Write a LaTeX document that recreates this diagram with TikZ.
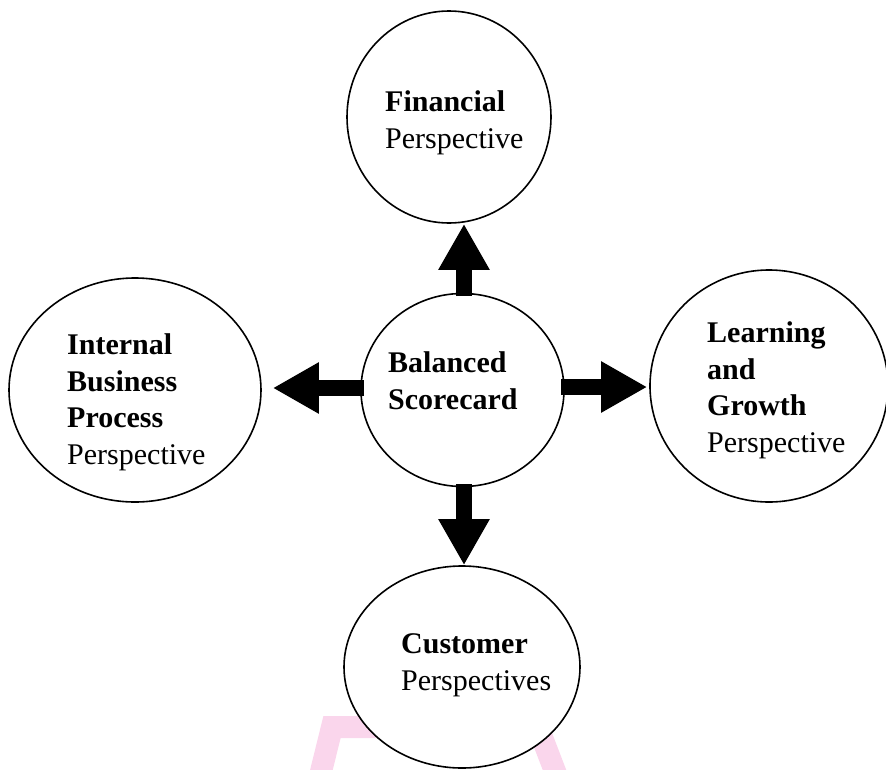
\documentclass[tikz,border=0pt]{standalone}
\usepackage{fontspec}
\setmainfont{Liberation Serif}
\usetikzlibrary{shapes.geometric,arrows.meta}
\definecolor{wmpink}{RGB}{250,214,236}
\begin{document}
\begin{tikzpicture}[x=1pt,y=-1pt,
  circ/.style={draw=black,line width=1.6pt,fill=white,ellipse,inner sep=0pt},
  lbl/.style={anchor=base west,align=left,inner sep=0pt,font=\fontsize{30}{36.5}\selectfont},
  blockarrow/.style={line width=16pt,-{Triangle[width=48pt,length=46pt]}}]
\useasboundingbox (0,0) rectangle (886,769);
\clip (0,0) rectangle (886,769);
% faint watermark
\draw[wmpink,line width=22pt,line join=miter] (314,800) -- (332,727) -- (538,727) -- (566,800);
% ellipses
\node[circ,minimum width=204pt,minimum height=212pt] (fin) at (449,117) {};
\node[circ,minimum width=203pt,minimum height=193pt] (bal) at (462.5,390) {};
\node[circ,minimum width=252pt,minimum height=224pt] (int) at (135,390) {};
\node[circ,minimum width=238pt,minimum height=232pt] (lrn) at (769,386) {};
\node[circ,minimum width=236pt,minimum height=202pt] (cus) at (462,667) {};
% arrows
\coordinate (upS) at (464,296);
\coordinate (dnS) at (464,484);
\coordinate (ltS) at (364,388);
\coordinate (rtS) at (561,387);
\draw[blockarrow] (upS) -- (upS |- fin.south);
\draw[blockarrow] (dnS) -- (dnS |- cus.north);
\draw[blockarrow] (ltS) -- ([xshift=11pt]int.east |- ltS);
\draw[blockarrow] (rtS) -- ([xshift=-2pt]lrn.west |- rtS);
% labels (anchor = baseline of the last line)
\node[lbl] (finT) at (385,148) {\textbf{Financial}\\Perspective};
\node[lbl] (balT) at (388,409) {\textbf{Balanced}\\\textbf{Scorecard}};
\node[lbl] (intT) at (67,464) {\textbf{Internal}\\\textbf{Business}\\\textbf{Process}\\Perspective};
\node[lbl] (lrnT) at (707,452) {\textbf{Learning}\\\textbf{and}\\\textbf{Growth}\\Perspective};
\node[lbl] (cusT) at (401,690) {\textbf{Customer}\\Perspectives};
\end{tikzpicture}
\end{document}
